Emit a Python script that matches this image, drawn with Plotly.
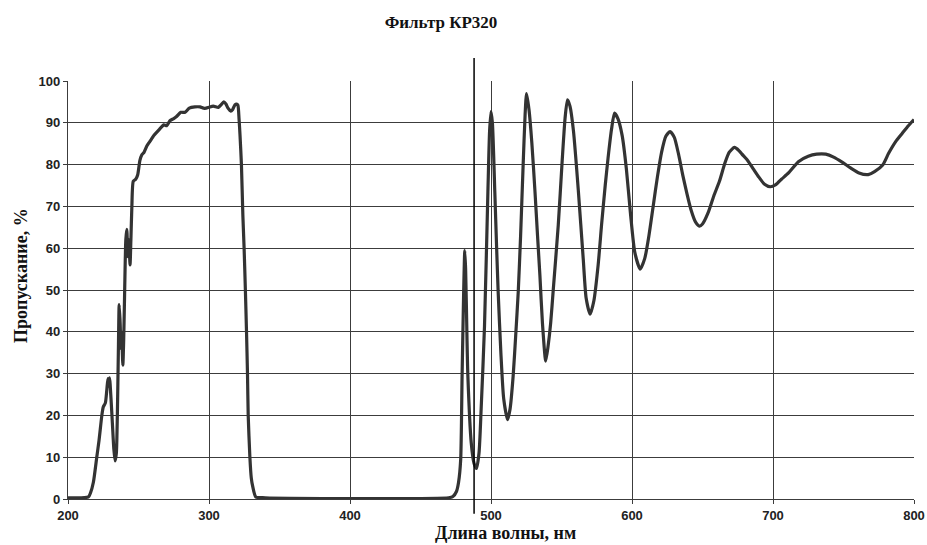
import plotly.graph_objects as go

# Transmission spectrum of the KP320 filter (wavelength in nm, transmission in %)
wavelength_uv = [200, 214.5, 216, 218, 220.4, 222, 224, 225, 226.5, 227.5, 228.3, 229, 229.5,
                 230.5, 231.5, 232.5, 233.4, 234.3, 235, 235.7, 236.3, 237, 237.5, 238, 238.9,
                 239.5, 240.2, 241, 241.7, 242.5, 243.2, 244, 244.6, 245.3, 246.3, 248, 249.4,
                 251, 252.3, 254, 256, 258, 261, 265, 268, 270, 272.3, 275, 277, 280, 283, 286,
                 290, 293.6, 296, 298, 300, 303, 306.6, 308.5, 310.5, 312, 313.5, 315.4, 316.8,
                 318.4, 319.5, 320.5, 321.3, 322, 323, 324, 324.9, 325.8, 326.6, 327.3, 327.8,
                 329, 330, 331, 333.2, 340]
transmission_uv = [0.3, 0.5, 1.5, 4, 10, 14, 20, 22, 23, 26, 28.8, 27, 29,
                   24, 18, 12, 9.1, 11, 20, 35, 46.5, 42, 36, 40, 32,
                   38, 50, 62, 64.5, 58, 62, 56, 62, 70, 76, 76.5, 77.5,
                   81, 82.3, 83, 84.5, 85.5, 87, 88.5, 89.5, 89.3, 90.5, 91, 91.5, 92.5, 92.5, 93.5,
                   93.8, 93.8, 93.5, 93.5, 93.7, 94, 93.7, 94.3, 95, 94.5, 93.5, 92.8, 93.2,
                   94.3, 94.5, 94.2, 91, 87, 80, 68, 60, 50, 40, 30, 20,
                   10, 5, 3, 0.5, 0.3]

wavelength_vis = [470, 473, 475.5, 477, 478.5, 479.5, 480.6, 481.4, 482, 483, 483.6, 486, 488,
                  489.7, 491.5, 493, 495.4, 497.8, 499, 500, 501, 502.7, 504, 505.1, 507, 509,
                  511.7, 513.5, 515.7, 517.5, 519.3, 521, 522.8, 524.2, 525.2, 527, 529, 531.2,
                  533, 534.7, 536.5, 538.8, 540.5, 542.3, 544, 547.7, 550.5, 552.5, 554.2, 556,
                  558.5, 562, 565.4, 567.5, 570.3, 573, 576, 578.4, 581, 583, 585.5, 587.6, 590,
                  593, 596, 599, 602, 605.8, 609, 612, 615, 618, 621, 624, 627, 630, 633, 636,
                  639, 642, 645, 647.8, 650, 654, 658, 662, 666, 669, 672.7, 676, 678, 682, 686,
                  690, 694, 698, 702, 706, 711, 718, 725, 731, 737.4, 743, 749, 755, 761, 767.5,
                  772, 777.8, 782, 787, 791.7, 796, 800]
transmission_vis = [0.3, 0.6, 1.8, 4, 9.4, 29.4, 49.4, 59.4, 55, 38, 29.4, 13.4, 8.5,
                    7.3, 11, 21.4, 41.4, 73.5, 88, 92.7, 90, 73.5, 60, 49.4, 35, 24,
                    19, 21.5, 29.4, 39, 49.4, 63, 80, 92, 97, 93, 85, 73.5,
                    63, 53.4, 42, 33, 36.6, 42, 49.4, 65.5, 81, 91, 95.5, 94,
                    88, 73.5, 57.5, 48, 44.2, 47.5, 56, 65.5, 75, 81.5, 88.5, 92.3, 91,
                    87, 79, 68, 59, 55, 57.5, 63, 70, 77, 83, 86.8, 87.9, 86.5, 82.5, 77.5,
                    73, 69, 66.3, 65.3, 65.8, 68.5, 72.5, 76, 80.5, 83, 84.1, 83.3, 82.5, 81, 79,
                    77, 75.3, 74.7, 75.2, 76.5, 78, 80.7, 82, 82.5, 82.5, 81.8, 80.6, 79.2, 78, 77.6,
                    78.3, 79.9, 82.7, 85.5, 87.5, 89.3, 90.8]

wavelength = wavelength_uv + wavelength_vis
transmission = transmission_uv + transmission_vis

x_ticks = [200, 300, 400, 500, 600, 700, 800]
y_ticks = [0, 10, 20, 30, 40, 50, 60, 70, 80, 90, 100]
marker_wavelength = 488

grid_color = "#3c3c3c"
tick_font = dict(family="Liberation Sans, Arial, sans-serif", size=13, color="#222222", weight="bold")
serif_bold = dict(family="Liberation Serif, Times New Roman, serif", size=18, color="#111111", weight="bold")

fig = go.Figure()
fig.add_trace(go.Scatter(
    x=wavelength, y=transmission, mode="lines",
    line=dict(color="#333333", width=3.2, shape="spline", smoothing=0.6),
    hoverinfo="x+y", showlegend=False,
))

fig.add_shape(type="line", xref="x", yref="paper",
              x0=marker_wavelength, x1=marker_wavelength, y0=-0.035, y1=1.055,
              line=dict(color="#000000", width=1.5))

fig.update_layout(
    width=927, height=545,
    margin=dict(l=68, r=13, t=81, b=46, autoexpand=False),
    paper_bgcolor="white", plot_bgcolor="white",
    title=dict(text="Фильтр КР320", x=441 / 927, xref="container", xanchor="center",
               y=1 - 22 / 545, yref="container", yanchor="middle",
               font=dict(family=serif_bold["family"], size=17, color="#111111", weight="bold")),
    xaxis=dict(range=[200, 800], tickvals=x_ticks, ticktext=[str(v) for v in x_ticks],
               showgrid=True, gridcolor=grid_color, gridwidth=1,
               showline=True, linecolor=grid_color, linewidth=1.2,
               ticks="outside", ticklen=4, tickcolor=grid_color,
               tickfont=tick_font, zeroline=False, automargin=False),
    yaxis=dict(range=[0, 100], tickvals=y_ticks, ticktext=[str(v) for v in y_ticks],
               showgrid=True, gridcolor=grid_color, gridwidth=1,
               showline=True, linecolor=grid_color, linewidth=1.2,
               ticks="outside", ticklen=4, tickcolor=grid_color,
               tickfont=tick_font, zeroline=False, automargin=False),
    annotations=[
        dict(text="Длина волны, нм", xref="paper", yref="paper",
             x=(505 - 68) / 846, y=-(533 - 499) / 418, xanchor="center", yanchor="middle",
             showarrow=False, font=serif_bold),
        dict(text="Пропускание, %", xref="paper", yref="paper",
             x=-(68 - 21) / 846, y=(499 - 276) / 418, xanchor="center", yanchor="middle",
             textangle=-90, showarrow=False, font=serif_bold),
    ],
)

fig.write_html("out.html")
